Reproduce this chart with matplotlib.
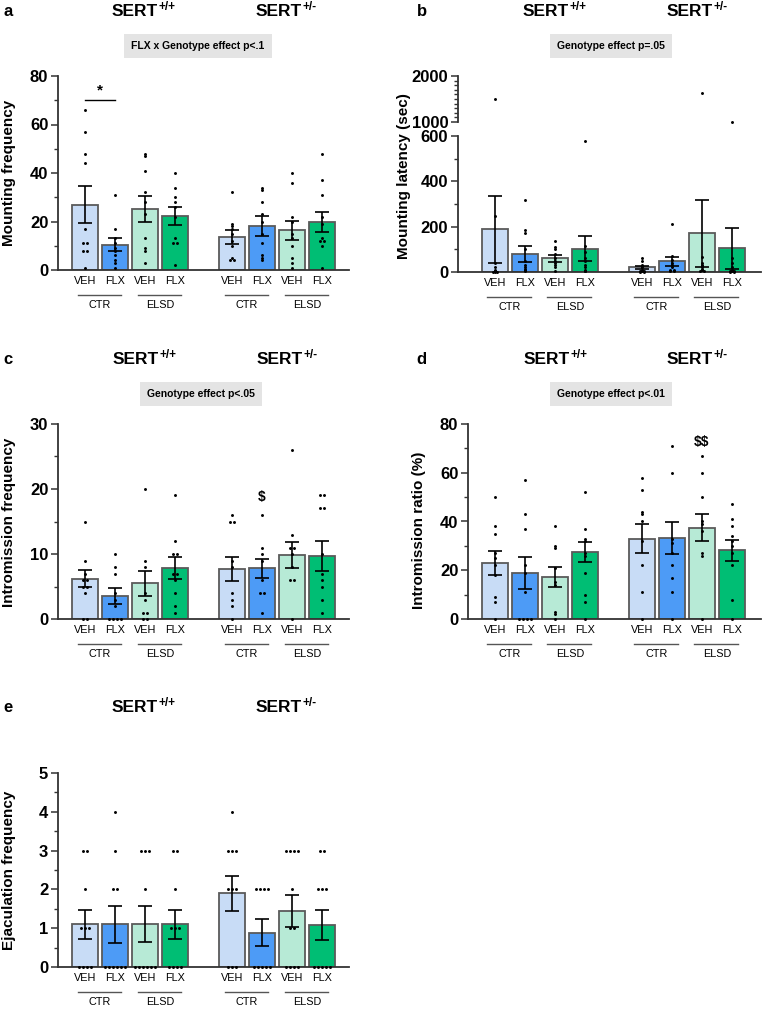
import numpy as np
import matplotlib
matplotlib.use("Agg")
import matplotlib.pyplot as plt

plt.rcParams['font.family'] = ['Liberation Sans', 'DejaVu Sans']

# groups: VEH/FLX within CTR/ELSD, for SERT+/+ then SERT+/-
tick_labels = ["VEH", "FLX", "VEH", "FLX", "VEH", "FLX", "VEH", "FLX"]
cond_labels = ["CTR", "ELSD", "CTR", "ELSD"]
geno_sup = ["+/+", "+/-"]
bar_colors = ["#c8dcf6", "#4d9bf6", "#b7ead6", "#00be74"] * 2

# a: mounting frequency
mf_mean = [27, 10.5, 25.1, 22.3, 13.7, 18, 16.3, 19.8]
mf_sem = [7.6, 2.7, 5.3, 3.8, 2.8, 4.1, 3.9, 4.2]
mf_pts = [[66, 57, 48, 44, 17, 11, 11, 8, 8, 1],
          [31, 17, 13, 11, 9, 8, 6, 4, 3, 1],
          [48, 47, 41, 32, 28, 23, 13, 9, 8, 3],
          [40, 34, 30, 28, 26, 22, 13, 11, 11, 2],
          [32, 19, 18, 17, 15, 12, 10, 5, 4, 4],
          [34, 33, 28, 23, 20, 15, 11, 6, 5, 4],
          [40, 36, 22, 20, 15, 13, 10, 5, 3, 1],
          [48, 37, 31, 22, 19, 13, 12, 12, 10, 1]]

# b: mounting latency (broken axis)
ml_mean = [188, 80, 60, 102, 20, 48, 170, 105]
ml_sem = [147, 34, 14, 55, 8, 20, 146, 90]
ml_pts = [[1500, 245, 40, 20, 10, 5, 3, 2, 2, 0],
          [318, 185, 170, 100, 50, 30, 20, 15, 10, 5],
          [138, 110, 100, 80, 60, 50, 40, 30, 20, 5],
          [580, 115, 90, 60, 50, 30, 20, 10, 5, 3],
          [63, 50, 30, 20, 10, 5, 5, 3, 2, 2],
          [212, 70, 55, 40, 30, 20, 10, 10, 5, 5],
          [1630, 65, 40, 30, 25, 20, 15, 10, 5, 5],
          [1000, 60, 40, 20, 10, 5, 5, 3, 2, 2]]

# c: intromission frequency
if_mean = [6.2, 3.5, 5.5, 7.8, 7.7, 7.8, 9.8, 9.7]
if_sem = [1.3, 1.2, 1.9, 1.7, 1.9, 1.5, 2.0, 2.3]
if_pts = [[15, 9, 7, 6, 6, 5, 5, 4, 0, 0],
          [10, 8, 7, 4, 3, 2, 0, 0, 0, 0],
          [20, 9, 8, 4, 3, 1, 1, 0, 0],
          [19, 12, 10, 10, 7, 7, 6, 4, 2, 1],
          [16, 15, 15, 9, 8, 4, 3, 2, 0],
          [16, 11, 10, 9, 6, 4, 4, 1],
          [26, 13, 11, 11, 10, 8, 6, 6, 0],
          [19, 19, 17, 17, 10, 7, 6, 5, 3, 1]]

# d: intromission ratio
ir_mean = [23, 18.8, 17.3, 27.4, 33, 33.2, 37.5, 28.3]
ir_sem = [5, 6.6, 4.2, 4.2, 5.8, 6.5, 5.5, 4.3]
ir_pts = [[50, 38, 35, 27, 25, 22, 18, 9, 7, 0],
          [57, 43, 37, 22, 19, 11, 0, 0, 0, 0],
          [38, 30, 29, 21, 15, 14, 3, 2, 0],
          [52, 37, 33, 32, 27, 26, 19, 10, 7, 0],
          [58, 53, 44, 43, 40, 32, 22, 11, 0],
          [71, 60, 33, 31, 27, 22, 17, 11, 0],
          [67, 60, 50, 40, 39, 36, 27, 26, 0],
          [47, 41, 38, 34, 32, 30, 27, 22, 8, 0]]

# e: ejaculation frequency
ef_mean = [1.1, 1.1, 1.1, 1.1, 1.9, 0.88, 1.45, 1.08]
ef_sem = [0.38, 0.48, 0.46, 0.38, 0.45, 0.35, 0.41, 0.39]
ef_pts = [[3, 3, 2, 1, 1, 1, 0, 0, 0, 0],
          [4, 3, 2, 2, 0, 0, 0, 0, 0, 0],
          [3, 3, 3, 2, 0, 0, 0, 0, 0, 0],
          [3, 3, 2, 1, 1, 1, 0, 0, 0, 0],
          [4, 3, 3, 3, 2, 2, 2, 0, 0, 0],
          [2, 2, 2, 2, 0, 0, 0, 0, 0],
          [3, 3, 3, 3, 2, 1, 1, 0, 0, 0, 0],
          [3, 3, 2, 2, 2, 0, 0, 0, 0, 0]]

xpos = np.array([0, 1, 2, 3, 4.9, 5.9, 6.9, 7.9])
W, H = 762, 1009
fig = plt.figure(figsize=(W / 100, H / 100), dpi=100)


def box(x0, x1, y0, y1):
    # pixel box -> figure fraction rect
    return [x0 / W, 1 - y1 / H, (x1 - x0) / W, (y1 - y0) / H]


def ftext(x, y, s, **kw):
    return fig.text(x / W, 1 - y / H, s, **kw)


def style_axis(ax, major, minor, only_left=False):
    for s in ["top", "right"]:
        ax.spines[s].set_visible(False)
    ax.spines["left"].set_linewidth(1.3)
    ax.spines["left"].set_color("#333333")
    ax.spines["bottom"].set_linewidth(1.3)
    ax.spines["bottom"].set_color("#333333")
    if only_left:
        ax.spines["bottom"].set_visible(False)
        ax.set_xticks([])
    ax.set_yticks(major)
    ax.set_yticks(minor, minor=True)
    ax.tick_params(axis="y", which="major", length=5, width=1.1, color="#333333",
                   labelsize=12, pad=2)
    ax.tick_params(axis="y", which="minor", length=3, width=1.0, color="#333333")
    for lab in ax.get_yticklabels():
        lab.set_fontweight("bold")


def spread(vals):
    vals = np.asarray(vals, dtype=float)
    off = np.zeros(len(vals))
    for v in np.unique(vals):
        idx = np.where(vals == v)[0]
        n = len(idx)
        off[idx] = (np.arange(n) - (n - 1) / 2) * 0.13
    return off


def draw_bars(ax, means, sems, pts, ymax=None):
    ax.bar(xpos, means, width=0.87, color=bar_colors, edgecolor="#5a5a5a",
           linewidth=1.3, zorder=2)
    for i, p in enumerate(pts):
        p = np.asarray(p, dtype=float)
        if ymax is not None:
            p = p[p <= ymax]
        ax.scatter(xpos[i] + spread(p), p, s=4.5, color="black", zorder=4,
                   clip_on=False, linewidths=0)
    ax.errorbar(xpos, means, yerr=sems, fmt="none", ecolor="black",
                elinewidth=1.2, capsize=4.7, capthick=1.2, zorder=5)


def x_labels(ax, height_px):
    ax.set_xticks(xpos)
    ax.set_xticklabels(tick_labels, fontsize=7.8)
    ax.tick_params(axis="x", length=0, pad=4)
    tr = ax.get_xaxis_transform()
    for k in range(4):
        a, b = xpos[2 * k], xpos[2 * k + 1]
        ax.plot([a - 0.25, b + 0.2], [-25 / height_px] * 2, color="#555555",
                lw=1.0, transform=tr, clip_on=False)
        ax.text((a + b) / 2, -35 / height_px, cond_labels[k], transform=tr,
                ha="center", va="center", fontsize=7.8)


def headers(letter, lx, geno_x, y, box_txt=None, box_xy=None):
    ftext(lx, y, letter, fontsize=12, fontweight="bold", ha="left", va="center")
    for gx, sup in zip(geno_x, geno_sup):
        t = ftext(gx - 9, y, "SERT", fontsize=12.5, fontweight="bold",
                  ha="center", va="center")
        fig.add_artist(plt.Annotation(sup, xy=(1.0, 0.8), xycoords=t,
                                      fontsize=8.5, fontweight="bold",
                                      ha="left", va="center"))
    if box_txt:
        ftext(box_xy[0], box_xy[1], box_txt, fontsize=7.5, fontweight="bold",
              ha="center", va="center",
              bbox=dict(boxstyle="square,pad=0.7", fc="#e4e4e4", ec="none"))


# ---- panel a
ax = fig.add_axes(box(58, 349, 76, 270))
draw_bars(ax, mf_mean, mf_sem, mf_pts)
ax.set_xlim(-0.9, 8.8)
ax.set_ylim(0, 80)
style_axis(ax, [0, 20, 40, 60, 80], [10, 30, 50, 70])
x_labels(ax, 194)
ax.plot([xpos[0], xpos[1]], [70, 70], color="black", lw=1.0)
ax.text((xpos[0] + xpos[1]) / 2, 71, "*", ha="center", va="bottom",
        fontsize=11, fontweight="bold")
ftext(9, 173, "Mounting frequency", rotation=90, fontsize=11,
      fontweight="bold", ha="center", va="center")
headers("a", 3, [144, 288], 12, "FLX x Genotype effect p<.1", (198, 46))

# ---- panel b (broken axis)
axl = fig.add_axes(box(458, 761, 136, 272))
axu = fig.add_axes(box(458, 761, 76, 122))
draw_bars(axl, ml_mean, ml_sem, ml_pts, ymax=600)
for i, p in enumerate(ml_pts):
    p = np.asarray(p, dtype=float)
    p = p[p > 600]
    axu.scatter(xpos[i] + spread(p), p, s=4.5, color="black", zorder=4,
                clip_on=False, linewidths=0)
for a_ in (axl, axu):
    a_.set_xlim(-1.23, 8.87)
axl.set_ylim(0, 600)
axu.set_ylim(1000, 2000)
style_axis(axl, [0, 200, 400, 600], [100, 300, 500])
style_axis(axu, [1000, 2000], np.arange(1100, 2000, 100), only_left=True)
axu.patch.set_alpha(0)
x_labels(axl, 136)
ftext(404, 176, "Mounting latency (sec)", rotation=90, fontsize=11,
      fontweight="bold", ha="center", va="center")
headers("b", 417, [555, 699], 12, "Genotype effect p=.05", (611, 46))

# ---- panel c
ax = fig.add_axes(box(58, 349, 424, 619))
draw_bars(ax, if_mean, if_sem, if_pts)
ax.set_xlim(-0.9, 8.8)
ax.set_ylim(0, 30)
style_axis(ax, [0, 10, 20, 30], [5, 15, 25])
x_labels(ax, 195)
ax.text(xpos[5], 18.8, r"\$", ha="center", va="center", fontsize=10,
        fontweight="bold")
ftext(9, 522, "Intromission frequency", rotation=90, fontsize=11,
      fontweight="bold", ha="center", va="center")
headers("c", 3, [145, 289], 359, "Genotype effect p<.05", (201, 394))

# ---- panel d
ax = fig.add_axes(box(468, 761, 424, 619))
draw_bars(ax, ir_mean, ir_sem, ir_pts)
ax.set_xlim(-0.9, 8.87)
ax.set_ylim(0, 80)
style_axis(ax, [0, 20, 40, 60, 80], [10, 30, 50, 70])
x_labels(ax, 195)
ax.text(xpos[6], 72.8, r"\$\$", ha="center", va="center", fontsize=10,
        fontweight="bold")
ftext(419, 530, "Intromission ratio (%)", rotation=90, fontsize=11,
      fontweight="bold", ha="center", va="center")
headers("d", 416, [556, 699], 359, "Genotype effect p<.01", (611, 394))

# ---- panel e
ax = fig.add_axes(box(58, 349, 773, 967))
draw_bars(ax, ef_mean, ef_sem, ef_pts)
ax.set_xlim(-0.9, 8.8)
ax.set_ylim(0, 5)
style_axis(ax, [0, 1, 2, 3, 4, 5], [0.5, 1.5, 2.5, 3.5, 4.5])
x_labels(ax, 194)
ftext(9, 870, "Ejaculation frequency", rotation=90, fontsize=11,
      fontweight="bold", ha="center", va="center")
headers("e", 3, [144, 288], 707)

fig.savefig("out.png", dpi=100)
